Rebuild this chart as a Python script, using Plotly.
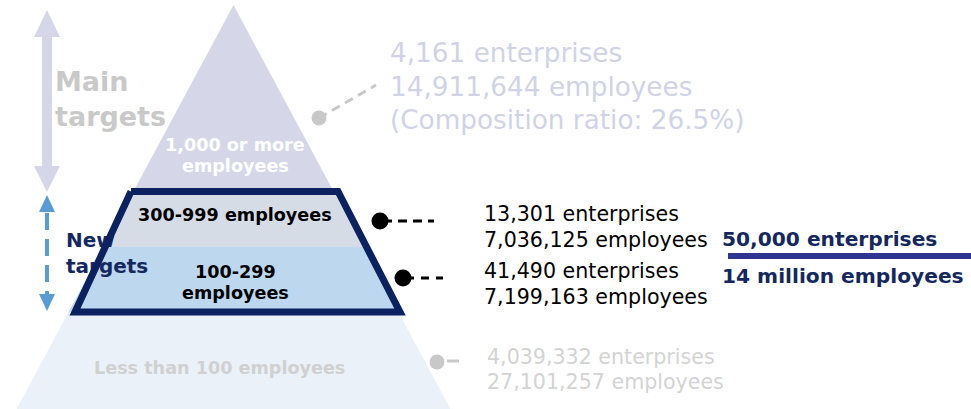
import plotly.graph_objects as go

# ---- data ---------------------------------------------------------------
bands = ["1,000 or more", "300-999", "100-299", "Less than 100"]
band_labels = [["1,000 or more", "employees"], ["300-999 employees"],
               ["100-299", "employees"], ["Less than 100 employees"]]
enterprises = [4161, 13301, 41490, 4039332]
employees = [14911644, 7036125, 7199163, 27101257]
composition_ratio_top = 26.5
summary_lines = ["50,000 enterprises", "14 million employees"]
main_label = ["Main", "targets"]
new_label = ["New", "targets"]

# ---- layout constants ---------------------------------------------------
W, H = 971, 409
FONT = "DejaVu Sans"
CX, APEX_Y, SLOPE = 233.5, 5.0, 0.537
band_edges_y = [APEX_Y, 190, 247, 312, 420]
band_colors = ["#d5d7e8", "#d6dce5", "#bdd7ee", "#eaf1f9"]
NAVY = "#0b2160"


def half_width(y):
    return SLOPE * (y - APEX_Y)


fig = go.Figure()

# pyramid bands
for i, name in enumerate(bands):
    y0, y1 = band_edges_y[i], band_edges_y[i + 1]
    xs = [CX - half_width(y0), CX + half_width(y0), CX + half_width(y1), CX - half_width(y1), CX - half_width(y0)]
    ys = [y0, y0, y1, y1, y0]
    fig.add_trace(go.Scatter(x=xs, y=ys, fill="toself", fillcolor=band_colors[i],
                             mode="lines", line=dict(width=0), hoverinfo="skip",
                             name=name, showlegend=False))

# "New targets" label sits under the outline
fig.add_trace(go.Scatter(x=[66, 66], y=[242, 268], text=new_label, mode="text",
                         textposition="middle right",
                         textfont=dict(family=FONT, size=20, color="#14285f", weight="bold"),
                         hoverinfo="skip", showlegend=False))

# outline around the new target bands
fig.add_trace(go.Scatter(x=[131, 338, 400, 75, 131], y=[191.5, 191.5, 312, 312, 191.5],
                         mode="lines", line=dict(color=NAVY, width=7), hoverinfo="skip",
                         showlegend=False))

# leader lines (drawn before the dots so the dots sit on top)
leaders = [
    dict(x=[319, 376], y=[118, 85], color="#c8c8c8", dash="9px,6px"),
    dict(x=[383, 434], y=[221, 221], color="#000000", dash="9px,6px"),
    dict(x=[406, 443], y=[278, 278], color="#000000", dash="8px,7px"),
    dict(x=[447, 459], y=[361, 361], color="#c8c8c8", dash="solid"),
]
for ld in leaders:
    fig.add_trace(go.Scatter(x=ld["x"], y=ld["y"], mode="lines",
                             line=dict(color=ld["color"], width=3, dash=ld["dash"]),
                             hoverinfo="skip", showlegend=False))

# leader dots
dot_x = [319, 380, 403, 437]
dot_y = [118, 221, 278, 362]
dot_colors = ["#c8c8c8", "#000000", "#000000", "#c8c8c8"]
dot_sizes = [15, 17, 17, 15]
fig.add_trace(go.Scatter(x=dot_x, y=dot_y, mode="markers", opacity=1,
                         marker=dict(color=dot_colors, size=dot_sizes, opacity=1,
                                     line=dict(width=0)),
                         hoverinfo="skip", showlegend=False))

shapes = []
# main targets double arrow
shapes.append(dict(type="path",
                   path="M 47 10 L 60 37 L 52 37 L 52 166 L 60 166 L 47 192 L 34 166 L 42 166 L 42 37 L 34 37 Z",
                   fillcolor="#d5d7e8", line=dict(width=0)))
# new targets dashed double arrow
shapes.append(dict(type="path", path="M 47 195 L 55 212 L 39 212 Z",
                   fillcolor="#5b9bd5", line=dict(width=0)))
shapes.append(dict(type="path", path="M 47 311 L 55 294 L 39 294 Z",
                   fillcolor="#5b9bd5", line=dict(width=0)))
shapes.append(dict(type="line", x0=47, y0=213, x1=47, y1=294,
                   line=dict(color="#5b9bd5", width=4, dash="17px,9px")))
# summary underline
shapes.append(dict(type="line", x0=728, y0=256, x1=975, y1=256,
                   line=dict(color="#303591", width=6)))

annotations = []


def text(x, y, s, size, color, bold=False, anchor="left"):
    annotations.append(dict(x=x, y=y, text=s, showarrow=False, xanchor=anchor, yanchor="middle",
                            font=dict(family=FONT, size=size, color=color,
                                      weight="bold" if bold else "normal")))


# big gray label
text(53, 81, main_label[0], 27, "#c9c9c9", True)
text(53, 116, main_label[1], 27, "#c9c9c9", True)

# band labels inside the pyramid
label_pos = [[(235, 145), (235, 166)], [(235, 215)], [(235, 272), (235, 293)], [(219, 368)]]
label_colors = ["#ffffff", "#000000", "#000000", "#d0d0d0"]
for lines, pos, col in zip(band_labels, label_pos, label_colors):
    for s, (x, y) in zip(lines, pos):
        text(x, y, s, 17.6, col, True, anchor="center")

# side statistics
top_lines = [f"{enterprises[0]:,} enterprises", f"{employees[0]:,} employees",
             f"(Composition ratio: {composition_ratio_top}%)"]
for s, y in zip(top_lines, [53, 87, 120]):
    text(388, y, s, 26.3, "#d0d3e6")

for i, ys in zip([1, 2], [(214, 240), (271, 297)]):
    text(482, ys[0], f"{enterprises[i]:,} enterprises", 20.6, "#000000")
    text(482, ys[1], f"{employees[i]:,} employees", 20.6, "#000000")

text(485, 357, f"{enterprises[3]:,} enterprises", 20.6, "#d3d3d3")
text(485, 382, f"{employees[3]:,} employees", 20.6, "#d3d3d3")

text(720, 239, summary_lines[0], 20.2, "#14285f", True)
text(720, 276, summary_lines[1], 20.2, "#14285f", True)

fig.update_layout(
    width=W, height=H, margin=dict(l=0, r=0, t=0, b=0),
    paper_bgcolor="#ffffff", plot_bgcolor="#ffffff",
    xaxis=dict(range=[0, W], visible=False, fixedrange=True),
    yaxis=dict(range=[H, 0], visible=False, fixedrange=True),
    shapes=shapes, annotations=annotations, showlegend=False,
)

fig.write_html("out.html", config={"displayModeBar": False})
